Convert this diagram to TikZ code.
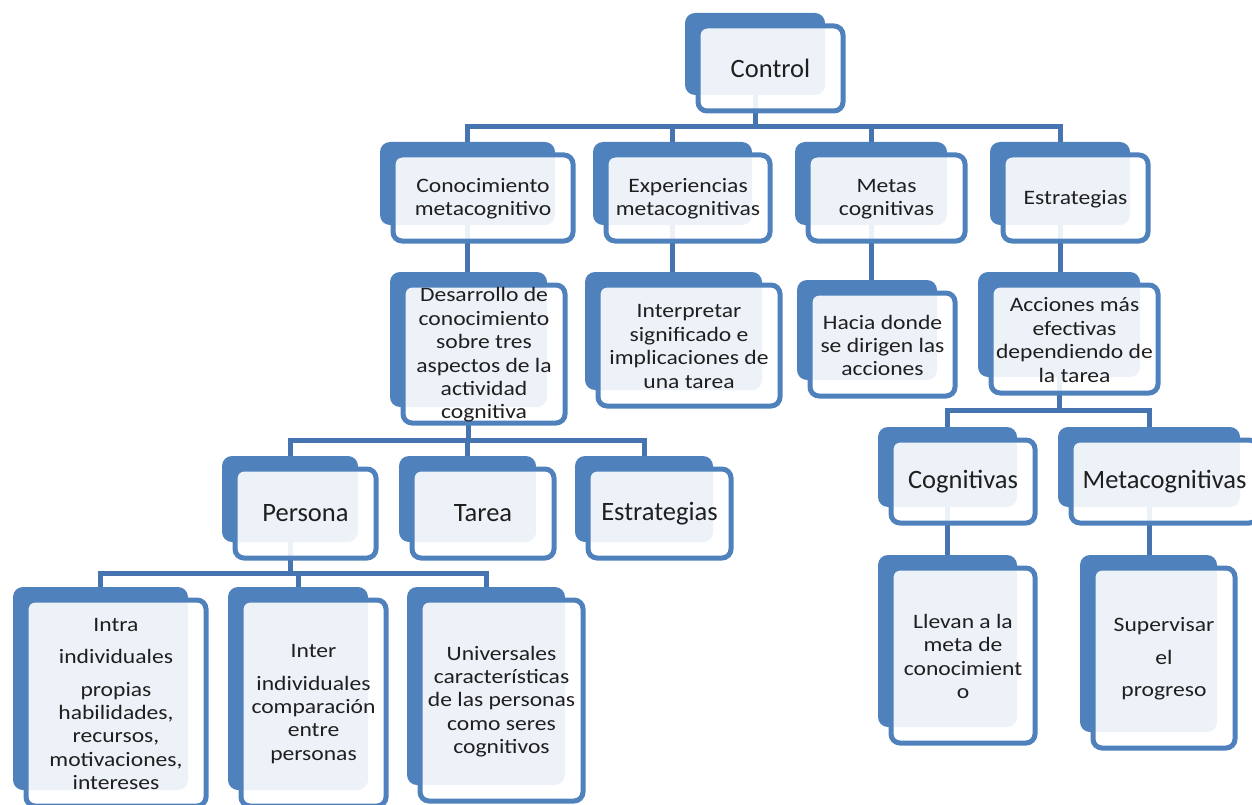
\documentclass[tikz,border=0pt]{standalone}
\usepackage{fontspec}
\setmainfont{Carlito}
\newfontfamily\widefont{Carlito}[FakeStretch=1.15]
\usetikzlibrary{fit, backgrounds}
\definecolor{boxblue}{HTML}{4F81BD}
\definecolor{linkblue}{HTML}{4674B0}

\begin{document}
\begin{tikzpicture}[x=1pt, y=-1pt,
  back/.style={fill=boxblue, rounded corners=10pt, inner sep=0pt},
  front/.style={draw=boxblue, line width=5pt, fill=white, fill opacity=0.9,
    rounded corners=9pt, inner sep=0pt},
  big/.style={font=\fontsize{26.5}{28}\selectfont, align=center, text=black!88},
  small/.style={font=\widefont\fontsize{20.5}{23.4}\selectfont, align=center, text=black!88, yshift=-1pt},
  link/.style={draw=linkblue, line width=5pt}]
\useasboundingbox (0,0) rectangle (1252,805);

% top
\node[back, fit={(685,13) (825,95)}] (ctrlb) {};
\node[front, fit={(698,26) (843,111)}] (ctrl) {};
\node[big] (ctrltx) at (ctrl) {Control};

% second row
\node[back, fit={(380,142) (555,225)}] (conb) {};
\node[front, fit={(393,155) (573,241)}] (con) {};
\node[small] (contx) at (con) {Conocimiento\\metacognitivo};
\node[back, fit={(593,142) (752,225)}] (expb) {};
\node[front, fit={(606,155) (770,241)}] (exp) {};
\node[small] (exptx) at (exp) {Experiencias\\metacognitivas};
\node[back, fit={(795,142) (947,225)}] (metb) {};
\node[front, fit={(808,155) (965,241)}] (met) {};
\node[small] (mettx) at (met) {Metas\\cognitivas};
\node[back, fit={(990,142) (1130,225)}] (estb) {};
\node[front, fit={(1003,155) (1148,241)}] (est) {};
\node[small] (esttx) at (est) {Estrategias};

% third row
\node[back, fit={(390,272) (547,407)}] (desb) {};
\node[front, fit={(403,285) (565,423)}] (des) {};
\node[small] (destx) at (des) {Desarrollo de\\conocimiento\\sobre tres\\aspectos de la\\actividad\\cognitiva};
\node[back, fit={(585,272) (762,390)}] (intb) {};
\node[front, fit={(598,285) (780,406)}] (int) {};
\node[small] (inttx) at (int) {Interpretar\\significado e\\implicaciones de\\una tarea};
\node[back, fit={(797,280) (937,380)}] (hacb) {};
\node[front, fit={(810,293) (955,396)}] (hac) {};
\node[small] (hactx) at (hac) {Hacia donde\\se dirigen las\\acciones};
\node[back, fit={(978,272) (1140,377)}] (accb) {};
\node[front, fit={(991,285) (1158,393)}] (acc) {};
\node[small] (acctx) at (acc) {Acciones más\\efectivas\\dependiendo de\\la tarea};

% aspects
\node[back, fit={(222,456) (358,542)}] (perb) {};
\node[front, fit={(235,469) (376,558)}] (per) {};
\node[big] (pertx) at (per) {Persona};
\node[back, fit={(399,456) (536,542)}] (tarb) {};
\node[front, fit={(412,469) (554,558)}] (tar) {};
\node[big] (tartx) at (tar) {Tarea};
\node[back, fit={(575,456) (713,542)}] (strb) {};
\node[front, fit={(588,469) (731,558)}] (str) {};
\node[big] (strtx) at (str) {Estrategias};

% kinds of strategies
\node[back, fit={(878,427) (1017,507)}] (cogb) {};
\node[front, fit={(891,440) (1035,523)}] (cog) {};
\node[big] (cogtx) at (cog) {Cognitivas};
\node[back, fit={(1058,427) (1240,507)}] (mcogb) {};
\node[front, fit={(1071,440) (1258,523)}] (mcog) {};
\node[big] (mcogtx) at (mcog) {Metacognitivas};
\node[back, fit={(878,555) (1017,727)}] (llevb) {};
\node[front, fit={(891,568) (1035,743)}] (llev) {};
\node[small] (llevtx) at (llev) {Llevan a la\\meta de\\conocimient\\o};
\node[back, fit={(1080,555) (1217,732)}] (supb) {};
\node[front, fit={(1093,568) (1235,748)}] (sup) {};
\node[small] (suptx) at (sup) {Supervisar\\[9pt]el\\[9pt]progreso};

% persons
\node[back, fit={(13,587) (188,790)}] (intrab) {};
\node[front, fit={(26,600) (206,806)}] (intra) {};
\node[small] (intratx) at (intra) {Intra\\[9pt]individuales\\[9pt]propias\\habilidades,\\recursos,\\motivaciones,\\intereses};
\node[back, fit={(228,587) (368,790)}] (interb) {};
\node[front, fit={(241,600) (386,806)}] (inter) {};
\node[small] (intertx) at (inter) {Inter\\[9pt]individuales\\comparación\\entre\\personas};
\node[back, fit={(407,587) (565,785)}] (univb) {};
\node[front, fit={(420,600) (583,801)}] (univ) {};
\node[small] (univtx) at (univ) {Universales\\características\\de las personas\\como seres\\cognitivos};

% connectors, behind the boxes
\coordinate (bus1) at (0,127);
\coordinate (bus2) at (0,440);
\coordinate (bus3) at (0,410);
\coordinate (bus4) at (0,573);
\begin{scope}[on background layer]
\draw[link] (ctrlb.center) -- (ctrlb.center |- bus1);
\draw[link] (conb.north) |- (estb.north |- bus1) -- (estb.north);
\foreach \n in {expb, metb}
  \draw[link] (\n.north) -- (\n.north |- bus1);

\draw[link] (conb.center) -- (conb.center |- desb.north);
\draw[link] (expb.center) -- (expb.center |- intb.north);
\draw[link] (metb.center) -- (metb.center |- hacb.north);
\draw[link] (estb.center) -- (estb.center |- accb.north);

\draw[link] (desb.center) -- (desb.center |- bus2);
\draw[link] (perb.north) |- (strb.north |- bus2) -- (strb.north);
\draw[link] (tarb.north) -- (tarb.north |- bus2);

\draw[link] (accb.center) -- (accb.center |- bus3);
\draw[link] (cogb.north) |- (mcogb.north |- bus3) -- (mcogb.north);
\draw[link] (cogb.center) -- (cogb.center |- llevb.north);
\draw[link] (mcogb.center) -- (mcogb.center |- supb.north);

\draw[link] (perb.center) -- (perb.center |- bus4);
\draw[link] (intrab.north) |- (univb.north |- bus4) -- (univb.north);
\draw[link] (interb.north) -- (interb.north |- bus4);
\end{scope}
\end{tikzpicture}
\end{document}
